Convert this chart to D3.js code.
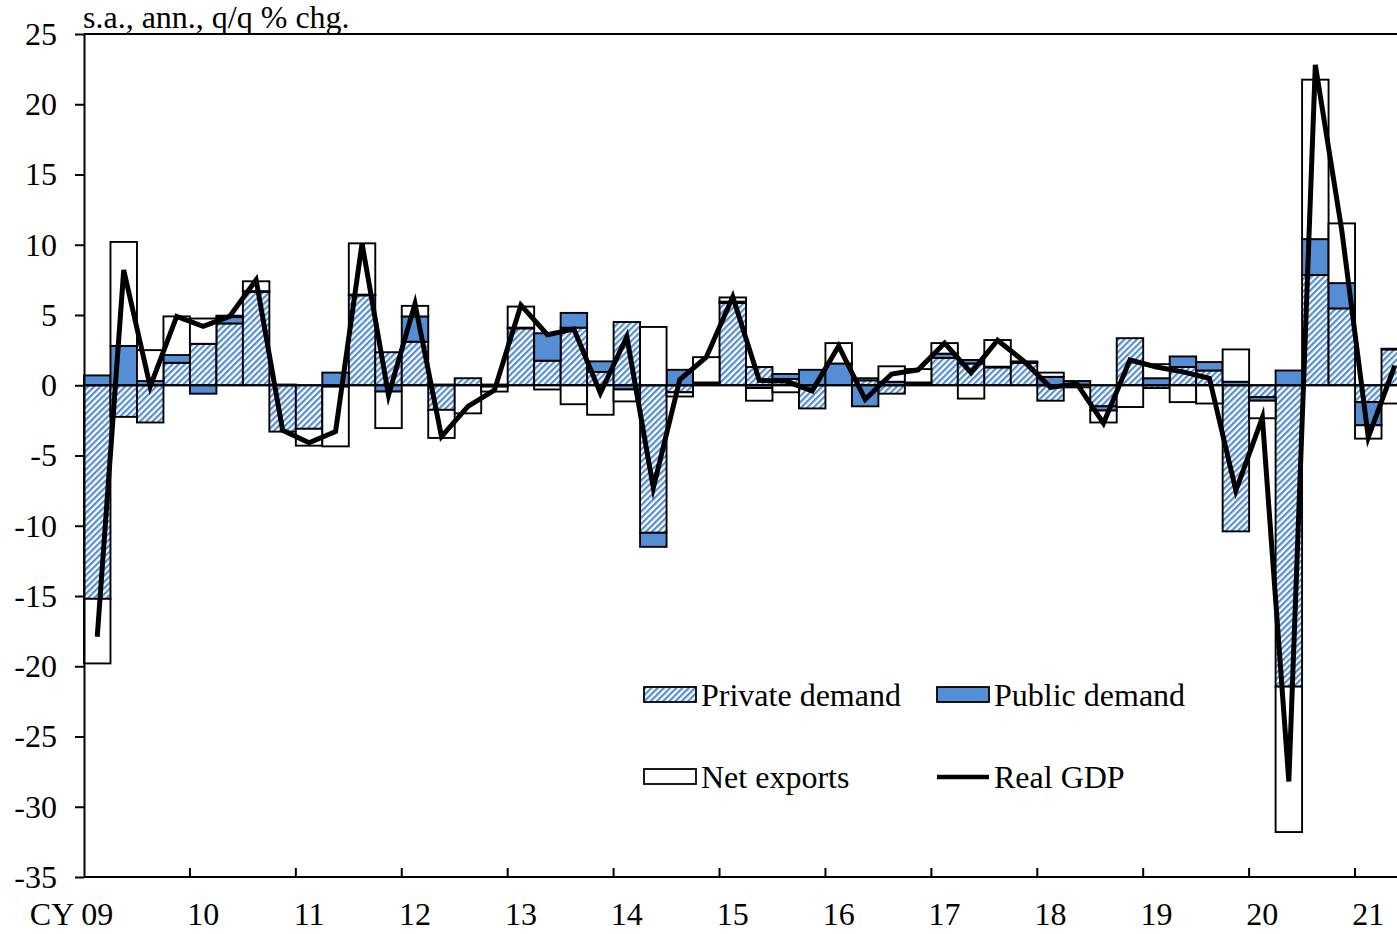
<!DOCTYPE html>
<html>
<head>
<meta charset="utf-8">
<script src="https://cdn.jsdelivr.net/npm/d3@7/dist/d3.min.js"></script>
<style>
  body { margin: 0; background: #fff; }
  svg { display: block; }
  text { font-family: 'Liberation Serif', 'Times New Roman', serif; fill: #000; }
</style>
</head>
<body>
<svg></svg>
<script>
'use strict';

// quarters, CY2009 Q1 .. CY2021 Q2
var quarters = [
  '09Q1','09Q2','09Q3','09Q4','10Q1','10Q2','10Q3','10Q4',
  '11Q1','11Q2','11Q3','11Q4','12Q1','12Q2','12Q3','12Q4',
  '13Q1','13Q2','13Q3','13Q4','14Q1','14Q2','14Q3','14Q4',
  '15Q1','15Q2','15Q3','15Q4','16Q1','16Q2','16Q3','16Q4',
  '17Q1','17Q2','17Q3','17Q4','18Q1','18Q2','18Q3','18Q4',
  '19Q1','19Q2','19Q3','19Q4','20Q1','20Q2','20Q3','20Q4',
  '21Q1','21Q2'
];

// contributions (s.a., ann., q/q % chg.)
var privateDemand = [
  -15.2, -2.25, -2.65, 1.6, 2.95, 4.4, 6.65, -3.3,
  -3.1, -0.1, 6.4, 2.35, 3.1, -1.75, 0.5, -0.1,
  4.05, 1.75, 4.1, 0.95, 4.5, -10.5, -0.5, 0.15,
  5.85, 1.3, 0.45, -1.65, 0, 0.35, -0.6, 0.1,
  1.95, 1.55, 1.27, 1.6, -1.1, 0.05, -1.5, 3.35,
  -0.2, 1.3, 1.05, -10.4, -0.85, -21.45, 7.85, 5.47,
  -1.2, 2.55
];
var publicDemand = [
  0.7, 2.8, 0.3, 0.55, -0.6, 0.45, 0.05, 0.05,
  0, 0.9, 0.05, -0.45, 1.8, 0.05, 0, 0.05,
  0.05, 1.95, 1.05, 0.75, -0.3, -1.0, 1.1, 0.05,
  0.1, -0.2, 0.35, 1.1, 1.55, -1.5, 0.25, 0.1,
  0.3, 0.25, 0.05, 0.05, 0.6, 0.25, -0.3, 0,
  0.5, 0.75, 0.6, 0.25, -0.25, 1.05, 2.55, 1.8,
  -1.65, 0.05
];
var netExports = [
  -4.6, 7.4, 2.2, 2.75, 1.8, 0.1, 0.7, 0,
  -1.2, -4.25, 3.65, -2.6, 0.75, -2.0, -2.0, -0.35,
  1.5, -0.3, -1.35, -2.1, -0.85, 4.15, -0.3, 1.8,
  0.3, -0.9, -0.5, 0, 1.45, 0.15, 1.1, 0.95,
  0.75, -0.95, 1.9, 0.05, 0.3, -0.15, -0.85, -1.55,
  1.0, -1.2, -1.3, 2.3, -1.25, -10.35, 11.35, 4.25,
  -0.95, -1.3
];
var realGDP = [
  -17.9, 8.2, -0.1, 4.9, 4.2, 4.9, 7.5, -3.2,
  -4.1, -3.3, 10.1, -0.7, 5.8, -3.65, -1.5, -0.35,
  5.7, 3.6, 4.0, -0.55, 3.45, -7.3, 0.4, 2.0,
  6.3, 0.35, 0.3, -0.4, 2.8, -1.0, 0.8, 1.1,
  3.0, 0.9, 3.2, 1.7, -0.15, 0.1, -2.7, 1.8,
  1.3, 0.95, 0.5, -7.5, -2.3, -28.2, 22.8, 11.0,
  -3.7, 1.4
];

// axis labels
var yearLabels = ['09','10','11','12','13','14','15','16','17','18','19','20','21'];
var yTicks = [25, 20, 15, 10, 5, 0, -5, -10, -15, -20, -25, -30, -35];

var SVG_SIZE = {width: 1397, height: 934};
var PLOT = {left: 84, top: 34, bottom: 877, quarterWidth: 26.48};
var BLUE = '#558ED5';
var FONT = 32;

var svg = d3.select('svg')
  .attr('width', SVG_SIZE.width).attr('height', SVG_SIZE.height);

// hatch pattern for private demand
var defs = svg.append('defs');
var pat = defs.append('pattern')
  .attr('id', 'hatch')
  .attr('patternUnits', 'userSpaceOnUse')
  .attr('width', 4.4).attr('height', 4.4)
  .attr('patternTransform', 'rotate(45)');
pat.append('rect').attr('width', 4.4).attr('height', 4.4).attr('fill', '#fff');
pat.append('rect').attr('width', 2.2).attr('height', 4.4).attr('fill', BLUE);

var plotRight = PLOT.left + quarters.length * PLOT.quarterWidth;

var xScale = d3.scaleBand()
  .domain(quarters)
  .range([PLOT.left, plotRight])
  .padding(0);

var yScale = d3.scaleLinear()
  .domain([-35, 25])
  .range([PLOT.bottom, PLOT.top]);

// stack positives up and negatives down
var rows = quarters.map(function(q, i) {
  return {q: q, priv: privateDemand[i], pub: publicDemand[i], net: netExports[i]};
});
var series = d3.stack()
  .keys(['priv', 'pub', 'net'])
  .offset(d3.stackOffsetDiverging)(rows);

var fills = {priv: 'url(#hatch)', pub: BLUE, net: '#fff'};

var plot = svg.append('g');

plot.selectAll('g.series')
  .data(series)
  .enter().append('g')
  .attr('class', 'series')
  .attr('fill', function(d) { return fills[d.key]; })
  .selectAll('rect')
  .data(function(d) { return d.filter(function(p) { return Math.abs(p[1] - p[0]) > 0.001; }); })
  .enter().append('rect')
  .attr('x', function(d) { return xScale(d.data.q); })
  .attr('y', function(d) { return yScale(Math.max(d[0], d[1])); })
  .attr('width', xScale.bandwidth())
  .attr('height', function(d) { return Math.abs(yScale(d[0]) - yScale(d[1])); })
  .attr('stroke', '#000')
  .attr('stroke-width', 1.9);

// zero line
plot.append('line')
  .attr('x1', PLOT.left).attr('x2', plotRight)
  .attr('y1', yScale(0)).attr('y2', yScale(0))
  .attr('stroke', '#000').attr('stroke-width', 2);

// real GDP line
var line = d3.line()
  .x(function(d, i) { return xScale(quarters[i]) + xScale.bandwidth() / 2; })
  .y(function(d) { return yScale(d); });

plot.append('path')
  .datum(realGDP)
  .attr('d', line)
  .attr('fill', 'none')
  .attr('stroke', '#000')
  .attr('stroke-width', 5)
  .attr('stroke-linejoin', 'miter')
  .attr('stroke-miterlimit', 6);

// y axis
var yAxis = d3.axisLeft(yScale)
  .tickValues(yTicks)
  .tickSize(9)
  .tickSizeOuter(0)
  .tickPadding(18)
  .tickFormat(function(d) { return String(d); });

var yG = svg.append('g')
  .attr('transform', 'translate(' + PLOT.left + ',0)')
  .call(yAxis);
yG.select('.domain').attr('stroke', '#000').attr('stroke-width', 2);
yG.selectAll('.tick line').attr('stroke', '#000').attr('stroke-width', 2);
yG.selectAll('text')
  .attr('font-size', FONT)
  .attr('font-family', "'Liberation Serif', serif")
  .attr('fill', '#000');

// top and bottom frame lines
svg.append('line')
  .attr('x1', PLOT.left).attr('x2', plotRight)
  .attr('y1', PLOT.top).attr('y2', PLOT.top)
  .attr('stroke', '#000').attr('stroke-width', 2);
svg.append('line')
  .attr('x1', PLOT.left).attr('x2', plotRight)
  .attr('y1', PLOT.bottom).attr('y2', PLOT.bottom)
  .attr('stroke', '#000').attr('stroke-width', 2);

// year boundary ticks (inside) and year labels
var firstQuarters = quarters.filter(function(q) { return q.slice(2) === 'Q1'; });
svg.selectAll('line.yeartick')
  .data(firstQuarters.slice(1))
  .enter().append('line')
  .attr('class', 'yeartick')
  .attr('x1', function(q) { return xScale(q); })
  .attr('x2', function(q) { return xScale(q); })
  .attr('y1', PLOT.bottom).attr('y2', PLOT.bottom - 9)
  .attr('stroke', '#000').attr('stroke-width', 2);

svg.selectAll('text.year')
  .data(firstQuarters)
  .enter().append('text')
  .attr('class', 'year')
  .attr('x', function(q) { return xScale(q) + xScale.bandwidth() / 2; })
  .attr('y', 925)
  .attr('text-anchor', 'middle')
  .attr('font-size', FONT)
  .text(function(q, i) { return yearLabels[i]; });

svg.append('text')
  .attr('x', xScale(quarters[0]) + xScale.bandwidth() / 2 - 23)
  .attr('y', 925)
  .attr('text-anchor', 'end')
  .attr('font-size', FONT)
  .text('CY');

// unit label
svg.append('text')
  .attr('x', 83).attr('y', 28)
  .attr('font-size', FONT)
  .text('s.a., ann., q/q % chg.');

// legend
var legendItems = [
  {label: 'Private demand', type: 'rect', fill: 'url(#hatch)', x: 644, y: 695},
  {label: 'Public demand', type: 'rect', fill: BLUE, x: 937, y: 695},
  {label: 'Net exports', type: 'rect', fill: '#fff', x: 644, y: 777},
  {label: 'Real GDP', type: 'line', x: 937, y: 777}
];
var leg = svg.append('g');
legendItems.forEach(function(it) {
  if (it.type === 'rect') {
    leg.append('rect')
      .attr('x', it.x).attr('y', it.y - 8)
      .attr('width', 52).attr('height', 15)
      .attr('fill', it.fill)
      .attr('stroke', '#000').attr('stroke-width', 1.8);
  } else {
    leg.append('line')
      .attr('x1', it.x).attr('x2', it.x + 52)
      .attr('y1', it.y).attr('y2', it.y)
      .attr('stroke', '#000').attr('stroke-width', 4.5);
  }
  leg.append('text')
    .attr('x', it.x + 57).attr('y', it.y + 11)
    .attr('font-size', FONT)
    .text(it.label);
});
</script>
</body>
</html>
